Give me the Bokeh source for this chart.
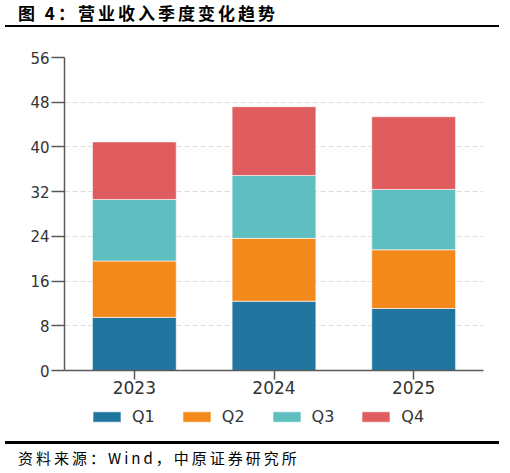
from bokeh.plotting import figure
from bokeh.layouts import column
from bokeh.models import (ColumnDataSource, FactorRange, Range1d, FixedTicker,
                          Legend, LegendItem, Div)
from bokeh.embed import file_html
from bokeh.resources import INLINE

years = ["2023", "2024", "2025"]
quarters = ["Q1", "Q2", "Q3", "Q4"]
q1 = [9.5, 12.4, 11.1]
q2 = [10.1, 11.25, 10.5]
q3 = [11.0, 11.25, 10.8]
q4 = [10.3, 12.3, 13.0]
colors = ["#21769f", "#f4891b", "#5fbebf", "#e05d5f"]
y_ticks = [0, 8, 16, 24, 32, 40, 48, 56]

title_text = "图 4：营业收入季度变化趋势"
source_text = "资料来源：Wind，中原证券研究所"

source = ColumnDataSource(data=dict(year=years, Q1=q1, Q2=q2, Q3=q3, Q4=q4))

p = figure(x_range=FactorRange(*years), y_range=Range1d(0, 56),
           width=494, height=372, output_backend="svg", toolbar_location=None,
           min_border_left=64, min_border_right=11, min_border_top=25,
           min_border_bottom=34)
p.outline_line_color = None

p.vbar_stack(quarters, x="year", width=0.6, source=source,
             fill_color=colors, line_color="white", line_width=0.6)

# axes
axis_col = "#595959"
p.yaxis.ticker = FixedTicker(ticks=y_ticks)
p.yaxis.major_tick_out = 13
p.yaxis.major_tick_in = 0
p.yaxis.minor_tick_line_color = None
p.yaxis.major_label_standoff = 2
p.yaxis.major_label_text_font = "DejaVu Sans"
p.yaxis.major_label_text_font_size = "15px"
p.yaxis.major_label_text_color = "#333333"

p.xaxis.major_tick_out = 9
p.xaxis.major_tick_in = 0
p.xaxis.major_label_standoff = 1
p.xaxis.major_label_text_font = "DejaVu Sans"
p.xaxis.major_label_text_font_size = "17px"
p.xaxis.major_label_text_color = "#333333"

for ax in [p.xaxis, p.yaxis]:
    ax.axis_line_color = axis_col
    ax.axis_line_width = 1.5
    ax.major_tick_line_color = axis_col
    ax.major_tick_line_width = 1.5

p.xgrid.grid_line_color = None
p.ygrid.grid_line_color = "#dcdcdc"
p.ygrid.grid_line_dash = "5 3"
p.ygrid.grid_line_width = 1.2

# legend strip: same stacked bars, kept out of view, only the legend shows
lg = figure(x_range=FactorRange(*years), y_range=Range1d(100, 101),
            width=494, height=32, output_backend="svg", toolbar_location=None,
            x_axis_location=None, y_axis_location=None, min_border=0)
lg.outline_line_color = None
lg.grid.grid_line_color = None
lbars = lg.vbar_stack(quarters, x="year", width=0.6, source=source,
                      fill_color=colors, line_color="white", line_width=0.6)
legend = Legend(items=[LegendItem(label=q, renderers=[r]) for q, r in zip(quarters, lbars)],
                orientation="horizontal", location=(25, 10),
                glyph_width=35, glyph_height=13, label_standoff=8, spacing=24,
                label_text_font="DejaVu Sans", label_text_font_size="16px",
                label_text_color="#333333", padding=0, margin=0,
                border_line_color=None, background_fill_alpha=0)
lg.add_layout(legend)

header = Div(text=title_text, width=494, height=22,
             styles={"font-family": "Noto Sans CJK SC", "font-weight": "bold",
                     "font-size": "17px", "line-height": "15px", "color": "black",
                     "letter-spacing": "3px",
                     "padding-left": "13px", "box-sizing": "border-box",
                     "border-bottom": "2.5px solid black"})
footer = Div(text=source_text, width=494, height=26,
             styles={"font-family": "Noto Sans CJK SC", "font-size": "15px",
                     "line-height": "18px", "color": "black",
                     "letter-spacing": "3px",
                     "padding-left": "13px", "padding-top": "5px",
                     "box-sizing": "border-box",
                     "border-top": "3px solid black"})

layout = column(header, p, lg, footer, spacing=0)

open("out.html", "w").write(file_html(layout, INLINE))
